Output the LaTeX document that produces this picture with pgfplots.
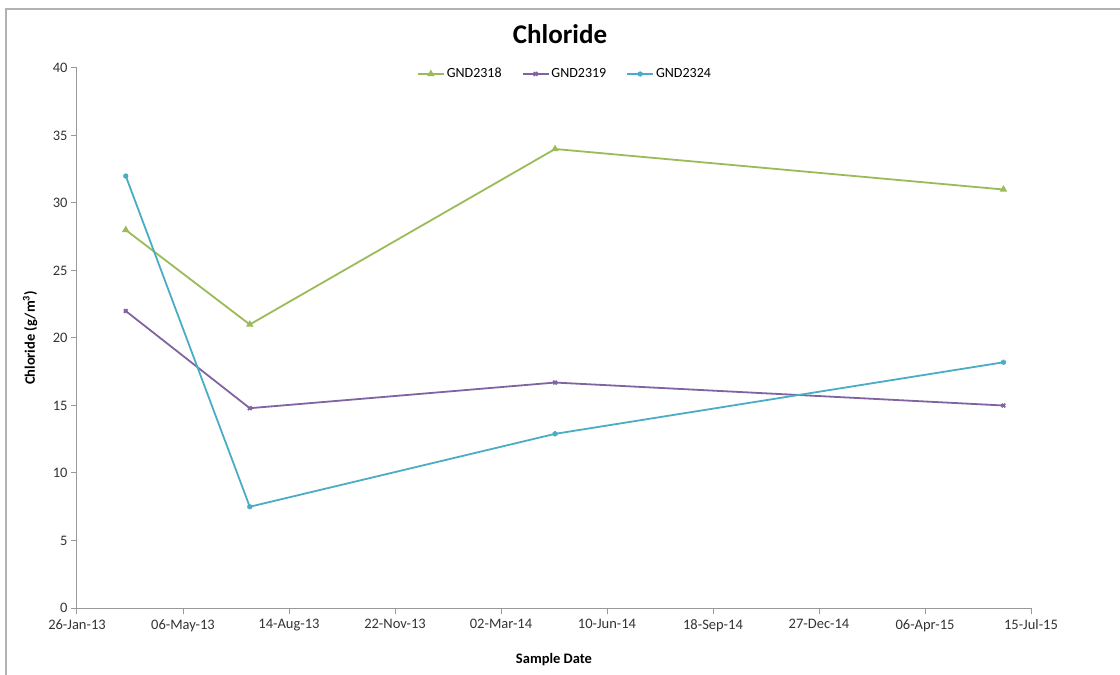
\documentclass[border=0pt]{standalone}
\usepackage{pgfplots}
\pgfplotsset{compat=1.18}
\usepackage{fontspec}
\setmainfont{Carlito}
\definecolor{cg}{RGB}{155,187,89}
\definecolor{cp}{RGB}{128,100,162}
\definecolor{cb}{RGB}{75,172,198}
\begin{document}
\begin{tikzpicture}[x=1pt,y=1pt]
\path[use as bounding box] (0,0) rectangle (1120,675);
\draw[black!30, line width=1.5pt] (6,0) -- (6,666) -- (1120,666);
\begin{axis}[
  at={(77pt,67pt)}, anchor=south west,
  scale only axis, width=954pt, height=540pt,
  xmin=0, xmax=900, ymin=0, ymax=40,
  xtick={0,100,...,900},
  xticklabels={26-Jan-13,06-May-13,14-Aug-13,22-Nov-13,02-Mar-14,10-Jun-14,18-Sep-14,27-Dec-14,06-Apr-15,15-Jul-15},
  ytick={0,5,...,40},
  axis x line*=bottom, axis y line*=left,
  axis line style={-, black!40, line width=1pt},
  tick style={black!40, line width=1pt},
  tick align=outside, major tick length=6pt,
  /pgf/number format/assume math mode=true,
  tick label style={font=\fontsize{14.5}{16}\selectfont, text=black!80},
  xticklabel style={yshift=-2pt},
  title={Chloride},
  title style={font=\fontsize{27}{30}\bfseries, at={(axis description cs:0.5063,1.052)}, anchor=center},
  xlabel={Sample Date},
  xlabel style={font=\fontsize{14.5}{16}\selectfont\bfseries, at={(axis description cs:0.5,-0.096)}, anchor=center},
  ylabel={Chloride (g/m\textsuperscript{3})},
  ylabel style={font=\fontsize{14.5}{16}\selectfont\bfseries, at={(axis description cs:-0.049,0.5)}, anchor=center},
  legend style={at={(axis description cs:0.5115,0.989)}, anchor=center, draw=none, fill=none,
    legend columns=3, font=\fontsize{14}{16}\selectfont,
    /tikz/every even column/.append style={column sep=18pt}},
  legend image code/.code={\draw[#1, mark repeat=2, mark phase=2] plot coordinates {(0pt,0pt) (13pt,0pt) (26pt,0pt)};},
  every axis plot/.append style={line width=1.8pt, mark size=2.6pt},
  clip=false,
]
\addplot[cg, mark=triangle*, mark options={solid}] coordinates {(46,28) (163,21) (451,34) (874,31)};
\addplot[cp, mark=x, mark options={solid}] coordinates {(46,22) (163,14.8) (451,16.7) (874,15)};
\addplot[cb, mark=asterisk, mark options={solid}] coordinates {(46,32) (163,7.5) (451,12.9) (874,18.2)};
\legend{GND2318,GND2319,GND2324}
\end{axis}
\end{tikzpicture}
\end{document}
